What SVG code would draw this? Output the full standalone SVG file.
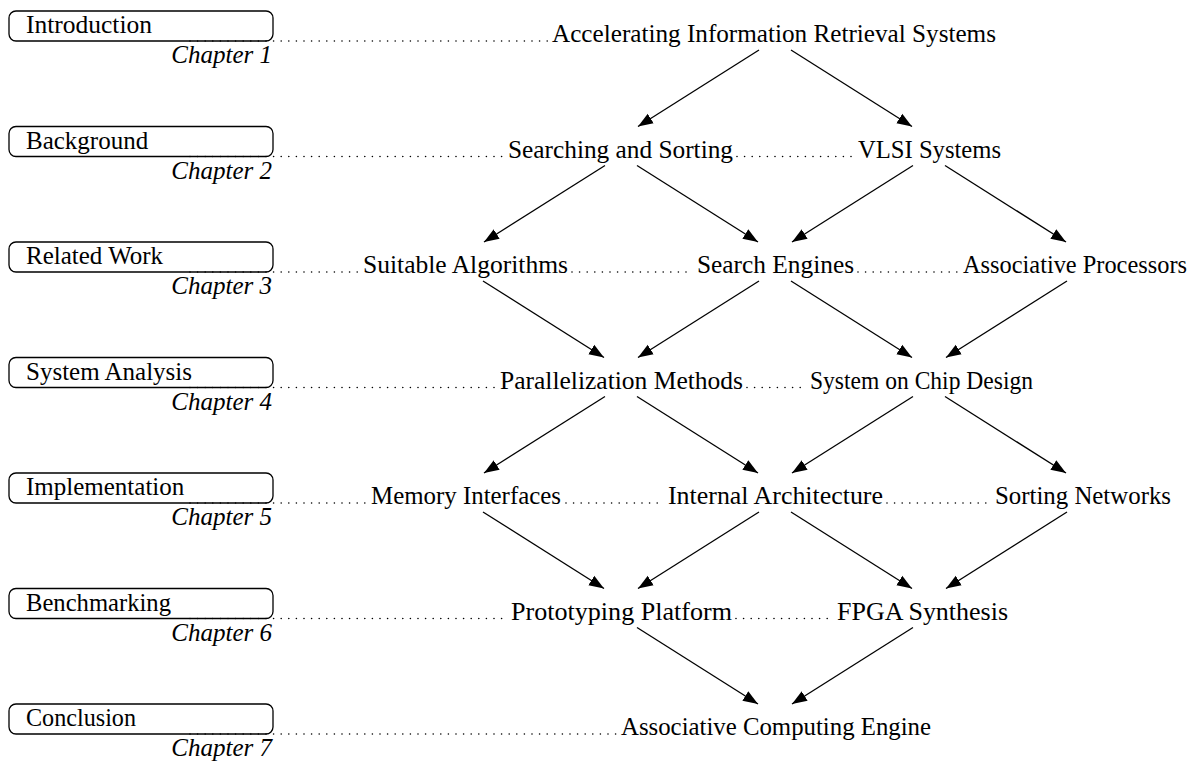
<svg xmlns="http://www.w3.org/2000/svg" width="1197" height="764" viewBox="0 0 1197 764">
<style>
.bg{fill:#ffffff}
.box{fill:none;stroke:#000;stroke-width:1.3}
.lbl{font-family:"Liberation Serif","DejaVu Serif",serif;font-size:25px;fill:#000}
.ch{font-family:"Liberation Serif","DejaVu Serif",serif;font-size:25px;font-style:italic;fill:#000}
.node{font-family:"Liberation Serif","DejaVu Serif",serif;font-size:25px;fill:#000}
.dot{fill:none;stroke:#000;stroke-width:1.6;stroke-linecap:round;stroke-dasharray:0 7.6}
.arr{fill:none;stroke:#000;stroke-width:1.3;marker-end:url(#ah)}
</style>
<defs>
<marker id="ah" markerUnits="userSpaceOnUse" markerWidth="16" markerHeight="12" viewBox="0 0 16 12" refX="15" refY="6" orient="auto">
<path d="M0,0.5 L15,6 L0,11.5 Z" fill="#000"/>
</marker>
</defs>
<rect class="bg" x="0" y="0" width="1197" height="764"/>

<g id="dotted-leaders">
<line class="dot" x1="190" y1="41" x2="548" y2="41"/>
<line class="dot" x1="190" y1="156.5" x2="504" y2="156.5"/>
<line class="dot" x1="737" y1="156.5" x2="854" y2="156.5"/>
<line class="dot" x1="190" y1="272" x2="359" y2="272"/>
<line class="dot" x1="572" y1="272" x2="693" y2="272"/>
<line class="dot" x1="858" y1="272" x2="959" y2="272"/>
<line class="dot" x1="190" y1="387.5" x2="496" y2="387.5"/>
<line class="dot" x1="747" y1="387.5" x2="806" y2="387.5"/>
<line class="dot" x1="190" y1="503" x2="367" y2="503"/>
<line class="dot" x1="566" y1="503" x2="664" y2="503"/>
<line class="dot" x1="887" y1="503" x2="991" y2="503"/>
<line class="dot" x1="190" y1="618.5" x2="507" y2="618.5"/>
<line class="dot" x1="736" y1="618.5" x2="833" y2="618.5"/>
<line class="dot" x1="190" y1="734" x2="617" y2="734"/>
</g>

<g id="ch1">
<rect class="box" x="9" y="11" width="264" height="30" rx="7"/>
<text class="lbl" x="26" y="33" textLength="126" lengthAdjust="spacingAndGlyphs">Introduction</text>
<text class="ch" x="272" y="63" text-anchor="end">Chapter 1</text>
</g>
<g id="ch2">
<rect class="box" x="9" y="126.5" width="264" height="30" rx="7"/>
<text class="lbl" x="26" y="148.5">Background</text>
<text class="ch" x="272" y="178.5" text-anchor="end">Chapter 2</text>
</g>
<g id="ch3">
<rect class="box" x="9" y="242" width="264" height="30" rx="7"/>
<text class="lbl" x="26" y="264">Related Work</text>
<text class="ch" x="272" y="294" text-anchor="end">Chapter 3</text>
</g>
<g id="ch4">
<rect class="box" x="9" y="357.5" width="264" height="30" rx="7"/>
<text class="lbl" x="26" y="379.5">System Analysis</text>
<text class="ch" x="272" y="409.5" text-anchor="end">Chapter 4</text>
</g>
<g id="ch5">
<rect class="box" x="9" y="473" width="264" height="30" rx="7"/>
<text class="lbl" x="26" y="495">Implementation</text>
<text class="ch" x="272" y="525" text-anchor="end">Chapter 5</text>
</g>
<g id="ch6">
<rect class="box" x="9" y="588.5" width="264" height="30" rx="7"/>
<text class="lbl" x="26" y="610.5" textLength="145" lengthAdjust="spacingAndGlyphs">Benchmarking</text>
<text class="ch" x="272" y="640.5" text-anchor="end">Chapter 6</text>
</g>
<g id="ch7">
<rect class="box" x="9" y="704" width="264" height="30" rx="7"/>
<text class="lbl" x="26" y="726" textLength="110" lengthAdjust="spacingAndGlyphs">Conclusion</text>
<text class="ch" x="272" y="756" text-anchor="end">Chapter 7</text>
</g>

<g id="n-accelerating"><text class="node" x="552" y="42" textLength="444" lengthAdjust="spacingAndGlyphs">Accelerating Information Retrieval Systems</text></g>
<g id="n-searching"><text class="node" x="508" y="157.5" textLength="225" lengthAdjust="spacingAndGlyphs">Searching and Sorting</text></g>
<g id="n-vlsi"><text class="node" x="858" y="157.5" textLength="143" lengthAdjust="spacingAndGlyphs">VLSI Systems</text></g>
<g id="n-suitable"><text class="node" x="363" y="273" textLength="205" lengthAdjust="spacingAndGlyphs">Suitable Algorithms</text></g>
<g id="n-searchengines"><text class="node" x="697" y="273" textLength="157" lengthAdjust="spacingAndGlyphs">Search Engines</text></g>
<g id="n-assocproc"><text class="node" x="963" y="273" textLength="224" lengthAdjust="spacingAndGlyphs">Associative Processors</text></g>
<g id="n-parallel"><text class="node" x="500" y="388.5" textLength="243" lengthAdjust="spacingAndGlyphs">Parallelization Methods</text></g>
<g id="n-soc"><text class="node" x="810" y="388.5" textLength="223" lengthAdjust="spacingAndGlyphs">System on Chip Design</text></g>
<g id="n-memory"><text class="node" x="371" y="504" textLength="190" lengthAdjust="spacingAndGlyphs">Memory Interfaces</text></g>
<g id="n-internal"><text class="node" x="668" y="504" textLength="215" lengthAdjust="spacingAndGlyphs">Internal Architecture</text></g>
<g id="n-sorting"><text class="node" x="995" y="504" textLength="176" lengthAdjust="spacingAndGlyphs">Sorting Networks</text></g>
<g id="n-prototyping"><text class="node" x="511" y="619.5" textLength="221" lengthAdjust="spacingAndGlyphs">Prototyping Platform</text></g>
<g id="n-fpga"><text class="node" x="837" y="619.5" textLength="171" lengthAdjust="spacingAndGlyphs">FPGA Synthesis</text></g>
<g id="n-ace"><text class="node" x="621" y="735" textLength="310" lengthAdjust="spacingAndGlyphs">Associative Computing Engine</text></g>

<g id="connectors">
<line class="arr" x1="759" y1="50" x2="638" y2="126.5"/>
<line class="arr" x1="791" y1="50" x2="912" y2="126.5"/>
<line class="arr" x1="605" y1="165.5" x2="484" y2="242"/>
<line class="arr" x1="637" y1="165.5" x2="758" y2="242"/>
<line class="arr" x1="913" y1="165.5" x2="792" y2="242"/>
<line class="arr" x1="945" y1="165.5" x2="1066" y2="242"/>
<line class="arr" x1="483" y1="281" x2="604" y2="357.5"/>
<line class="arr" x1="759" y1="281" x2="638" y2="357.5"/>
<line class="arr" x1="791" y1="281" x2="912" y2="357.5"/>
<line class="arr" x1="1067" y1="281" x2="946" y2="357.5"/>
<line class="arr" x1="605" y1="396.5" x2="484" y2="473"/>
<line class="arr" x1="637" y1="396.5" x2="758" y2="473"/>
<line class="arr" x1="913" y1="396.5" x2="792" y2="473"/>
<line class="arr" x1="945" y1="396.5" x2="1066" y2="473"/>
<line class="arr" x1="483" y1="512" x2="604" y2="588.5"/>
<line class="arr" x1="759" y1="512" x2="638" y2="588.5"/>
<line class="arr" x1="791" y1="512" x2="912" y2="588.5"/>
<line class="arr" x1="1067" y1="512" x2="946" y2="588.5"/>
<line class="arr" x1="637" y1="627.5" x2="758" y2="704"/>
<line class="arr" x1="913" y1="627.5" x2="792" y2="704"/>
</g>
</svg>
